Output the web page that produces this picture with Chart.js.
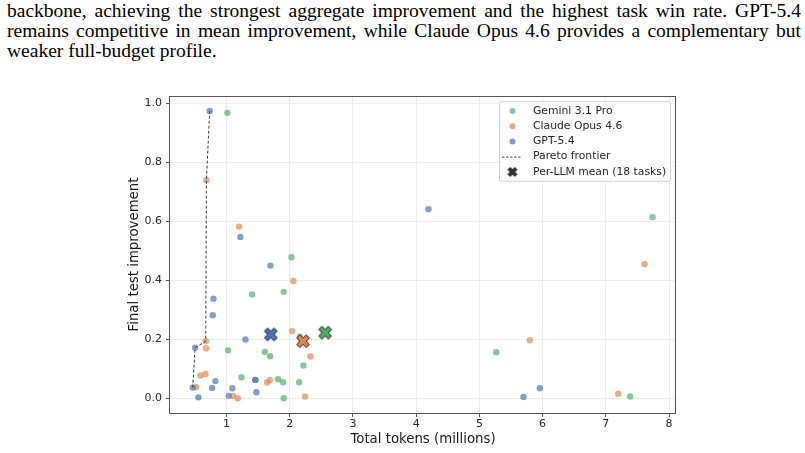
<!DOCTYPE html>
<html>
<head>
<meta charset="utf-8">
<script src="https://cdn.jsdelivr.net/npm/chart.js@4.4.1/dist/chart.umd.min.js"></script>
<style>
  html, body { margin: 0; padding: 0; background: #fff; }
  body { width: 805px; height: 453px; position: relative; overflow: hidden; }
  #text { position: absolute; left: 7px; top: 0.7px; width: 794px; font-family: "Liberation Serif", "Times New Roman", serif; font-size: 19.5px; line-height: 20px; color: #000; }
  #text div { white-space: nowrap; }
  #text span { display: inline-block; }
  #wrap { position: absolute; left: 0; top: 0; width: 805px; height: 453px; }
</style>
</head>
<body>
<div id="text">
  <div class="j"><span>backbone, achieving the strongest aggregate improvement and the highest task win rate. GPT-5.4</span></div>
  <div class="j"><span>remains competitive in mean improvement, while Claude Opus 4.6 provides a complementary but</span></div>
  <div><span>weaker full-budget profile.</span></div>
</div>
<div id="wrap"><canvas id="chart" width="805" height="453"></canvas></div>
<script>
// per-task results (tokens in millions, final test improvement)
const llmNames = ['Gemini 3.1 Pro', 'Claude Opus 4.6', 'GPT-5.4'];

const geminiTokens = [1.014, 2.027, 1.405, 1.905, 2.16, 1.025, 1.605, 1.69, 2.217, 1.236, 1.457, 1.816, 1.895, 2.148, 1.905, 7.739, 5.266, 7.386];
const geminiImprovement = [0.967, 0.478, 0.352, 0.361, 0.209, 0.163, 0.158, 0.143, 0.112, 0.072, 0.063, 0.065, 0.055, 0.055, 0.001, 0.614, 0.157, 0.007];

const claudeTokens = [0.682, 1.199, 2.058, 2.038, 0.671, 0.677, 2.328, 0.587, 0.666, 1.684, 1.642, 0.518, 1.104, 1.177, 2.243, 7.612, 5.797, 7.196];
const claudeImprovement = [0.739, 0.582, 0.398, 0.228, 0.194, 0.170, 0.142, 0.078, 0.083, 0.063, 0.054, 0.038, 0.009, 0.001, 0.007, 0.455, 0.197, 0.016];

const gptTokens = [0.734, 1.22, 1.695, 0.793, 0.782, 1.30, 0.503, 0.824, 1.457, 0.465, 0.772, 1.093, 0.555, 1.035, 1.473, 4.195, 5.956, 5.698];
const gptImprovement = [0.973, 0.547, 0.450, 0.338, 0.282, 0.200, 0.172, 0.059, 0.063, 0.037, 0.036, 0.035, 0.004, 0.009, 0.021, 0.641, 0.035, 0.005];

// per-LLM means (Gemini, Claude, GPT)
const meanTokens = [2.56, 2.21, 1.70];
const meanImprovement = [0.223, 0.194, 0.217];

// pareto frontier
const paretoTokens = [0.465, 0.503, 0.671, 0.682, 0.734];
const paretoImprovement = [0.037, 0.172, 0.194, 0.739, 0.973];

const xTicks = [1, 2, 3, 4, 5, 6, 7, 8];
const yTicks = [0.0, 0.2, 0.4, 0.6, 0.8, 1.0];

const solid = ['#55a868', '#dd8452', '#4c72b0'];
const faded = ['rgba(85,168,104,0.68)', 'rgba(221,132,82,0.68)', 'rgba(76,114,176,0.68)'];

// justify the paragraph lines by hand (word spacing may need to shrink)
document.querySelectorAll('#text .j span').forEach(sp => {
  const target = 794;
  const natural = sp.getBoundingClientRect().width;
  const spaces = (sp.textContent.match(/ /g) || []).length;
  sp.style.wordSpacing = ((target - natural) / spaces) + 'px';
});

function toPoints(xs, ys) {
  return xs.map((x, i) => ({ x: x, y: ys[i] }));
}

// filled "X" marker like matplotlib's
function makeX(color, M) {
  const c = document.createElement('canvas');
  c.width = 18; c.height = 18;
  const g = c.getContext('2d');
  const pts = [[-1, -3], [-1, -1], [-3, -1], [-3, 1], [-1, 1], [-1, 3], [1, 3], [1, 1], [3, 1], [3, -1], [1, -1], [1, -3]];
  const r = Math.SQRT1_2;
  g.beginPath();
  pts.forEach((p, i) => {
    const px = p[0] * M / 6, py = p[1] * M / 6;
    const qx = 9 + (px - py) * r, qy = 9 + (px + py) * r;
    if (i === 0) g.moveTo(qx, qy); else g.lineTo(qx, qy);
  });
  g.closePath();
  g.fillStyle = color;
  g.fill();
  g.lineWidth = 1;
  g.strokeStyle = '#1a1a1a';
  g.stroke();
  return c;
}
const xMarkers = solid.map(c => makeX(c, 13.5));
const legendX = makeX('#333333', 9.5);

const framePlugin = {
  id: 'frame',
  afterDatasetsDraw(chart) {
    const ctx = chart.ctx, a = chart.chartArea;
    ctx.save();
    ctx.strokeStyle = '#555555';
    ctx.lineWidth = 1;
    ctx.strokeRect(Math.round(a.left) - 0.5, Math.round(a.top) + 0.5, Math.round(a.right - a.left), Math.round(a.bottom - a.top));
    ctx.restore();
  }
};

const legendPlugin = {
  id: 'insideLegend',
  afterDraw(chart) {
    const ctx = chart.ctx, a = chart.chartArea;
    const w = 171, h = 79.5;
    const left = a.right - 6 - w, top = a.top + 5.3;
    ctx.save();
    ctx.fillStyle = 'rgba(255,255,255,0.85)';
    ctx.strokeStyle = '#d0d0d0';
    ctx.lineWidth = 1;
    ctx.beginPath();
    ctx.roundRect(left + 0.5, top + 0.5, w, h, 2);
    ctx.fill();
    ctx.stroke();

    const labels = [llmNames[0], llmNames[1], llmNames[2], 'Pareto frontier', 'Per-LLM mean (18 tasks)'];
    ctx.font = '10.8px "DejaVu Sans"';
    ctx.textBaseline = 'middle';
    labels.forEach((lab, i) => {
      const y = top + 9.6 + i * 15.25;
      const mx = left + 13.5;
      if (i < 3) {
        ctx.fillStyle = faded[i];
        ctx.beginPath();
        ctx.arc(mx, y, 3, 0, Math.PI * 2);
        ctx.fill();
      } else if (i === 3) {
        ctx.strokeStyle = '#444444';
        ctx.lineWidth = 1;
        ctx.setLineDash([2.5, 1.5]);
        ctx.beginPath();
        ctx.moveTo(left + 3, y + 0.5);
        ctx.lineTo(left + 22, y + 0.5);
        ctx.stroke();
        ctx.setLineDash([]);
      } else {
        ctx.drawImage(legendX, mx - 9, y - 9);
      }
      ctx.fillStyle = '#262626';
      ctx.fillText(lab, left + 34, y);
    });
    ctx.restore();
  }
};

const scatterSet = (i, xs, ys) => ({
  type: 'scatter',
  label: llmNames[i],
  data: toPoints(xs, ys),
  backgroundColor: faded[i],
  borderWidth: 0,
  pointRadius: 3.2,
  pointHoverRadius: 3.2
});

new Chart(document.getElementById('chart'), {
  type: 'scatter',
  data: {
    datasets: [
      {
        label: 'Per-LLM mean (18 tasks)',
        data: toPoints(meanTokens, meanImprovement),
        pointStyle: xMarkers,
        pointRadius: 9,
        order: 0
      },
      {
        type: 'line',
        label: 'Pareto frontier',
        data: toPoints(paretoTokens, paretoImprovement),
        borderColor: '#3a3a3a',
        borderWidth: 1,
        borderDash: [3, 2],
        pointRadius: 0,
        fill: false,
        tension: 0,
        order: 1
      },
      Object.assign(scatterSet(2, gptTokens, gptImprovement), { order: 2 }),
      Object.assign(scatterSet(1, claudeTokens, claudeImprovement), { order: 3 }),
      Object.assign(scatterSet(0, geminiTokens, geminiImprovement), { order: 4 })
    ]
  },
  options: {
    responsive: false,
    animation: false,
    events: [],
    layout: { padding: { left: 0, top: 96, right: 129, bottom: 0 } },
    plugins: { legend: { display: false }, tooltip: { enabled: false } },
    scales: {
      x: {
        type: 'linear',
        min: 0.106,
        max: 8.11,
        afterBuildTicks: s => { s.ticks = xTicks.map(v => ({ value: v })); },
        afterFit: s => { s.height = 40; },
        grid: { color: '#e8e8e8', lineWidth: 0.8, tickColor: '#555555', tickLength: 4, tickWidth: 1 },
        border: { display: false },
        ticks: { color: '#262626', font: { family: 'DejaVu Sans', size: 11 }, padding: 1, maxRotation: 0, callback: v => String(v) },
        title: { display: true, text: 'Total tokens (millions)', color: '#1a1a1a', font: { family: 'DejaVu Sans', size: 13.3 }, padding: { top: 0, bottom: 5.7 } }
      },
      y: {
        type: 'linear',
        min: -0.049,
        max: 1.024,
        afterBuildTicks: s => { s.ticks = yTicks.map(v => ({ value: v })); },
        afterFit: s => { s.width = 170; },
        grid: { color: '#e8e8e8', lineWidth: 0.8, tickColor: '#555555', tickLength: 4, tickWidth: 1 },
        border: { display: false },
        ticks: { color: '#262626', font: { family: 'DejaVu Sans', size: 11 }, padding: 4, callback: v => v.toFixed(1) },
        title: { display: true, text: 'Final test improvement', color: '#1a1a1a', font: { family: 'DejaVu Sans', size: 13.3 }, padding: { top: 127, bottom: 0 } }
      }
    }
  },
  plugins: [framePlugin, legendPlugin]
});
</script>
</body>
</html>
